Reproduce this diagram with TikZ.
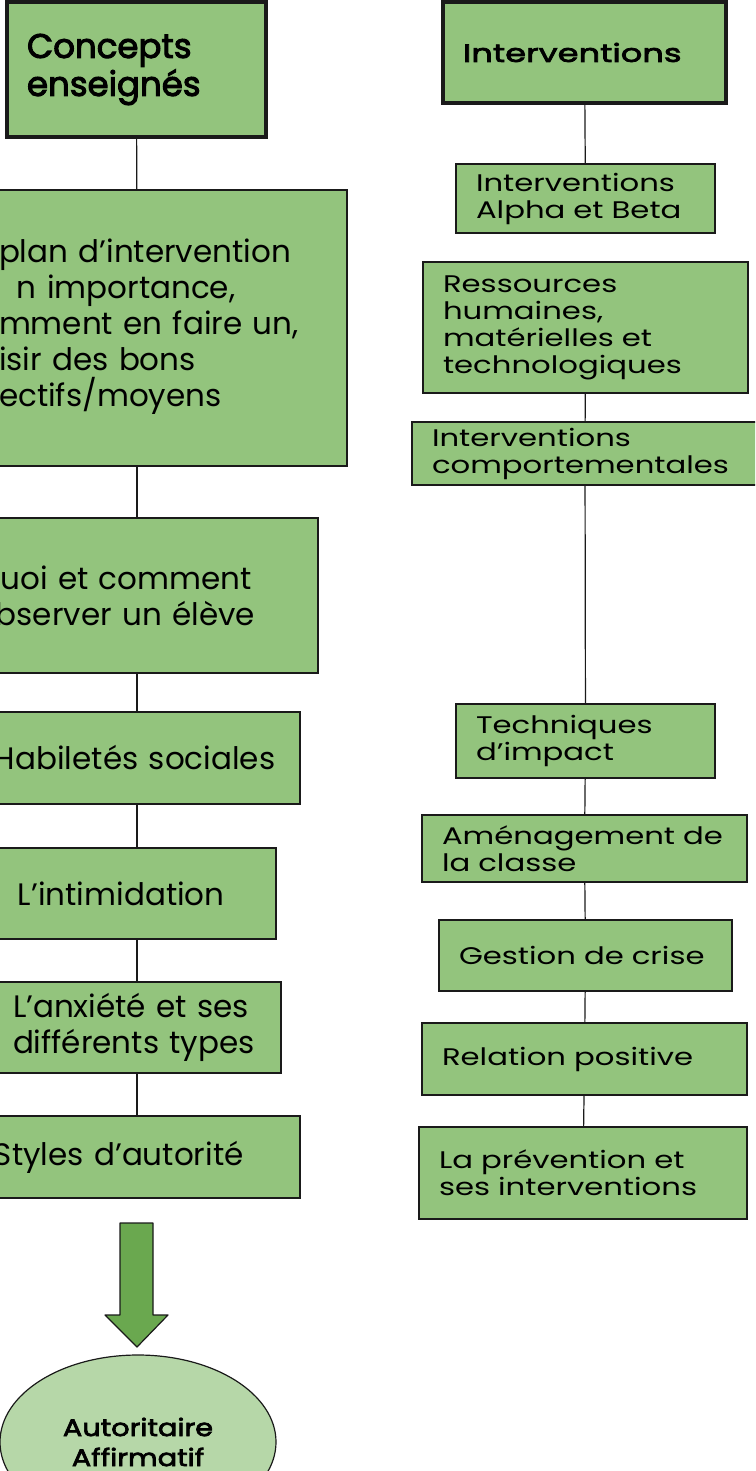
\documentclass[tikz,border=0pt]{standalone}
\usepackage{fontspec}
\setmainfont{Poppins}
\newfontfamily\WideFont[FakeStretch=1.28]{Poppins}
\newfontfamily\HeadFont[FakeBold=3]{Poppins}
\newfontfamily\HeadFontR[FakeBold=3,FakeStretch=1.35]{Poppins}
\newfontfamily\OvalFont[FakeBold=3,FakeStretch=1.2]{Poppins}
\usepackage{xcolor}
\definecolor{Col1}{RGB}{147,196,125}
\definecolor{Col2}{RGB}{106,168,79}
\definecolor{Col3}{RGB}{182,215,168}
\definecolor{Col4}{RGB}{26,26,26}
\usepackage{tikz}
\usetikzlibrary{shapes}
\tikzstyle{Box}=[rectangle,draw=Col4,fill=Col1,line width=.6pt,inner xsep=10pt,
inner ysep=0pt,align=left,font=\fontsize{15.5}{18}\selectfont]
\tikzstyle{BoxR}=[Box,font=\WideFont\fontsize{12}{13.5}\selectfont]
\tikzstyle{Head}=[Box,line width=2pt,font=\HeadFont\fontsize{17}{19}\selectfont]
\tikzstyle{HeadR}=[Head,font=\HeadFontR\fontsize{12.5}{14}\selectfont]
\tikzstyle{Oval}=[ellipse,draw=Col4,fill=Col3,line width=.6pt,inner sep=0pt,
align=center,font=\OvalFont\fontsize{12}{15}\selectfont]
\tikzstyle{Edge}=[draw=Col4,line width=.6pt]
\tikzstyle{BigArrow}=[draw=Col4,fill=Col2,line width=.6pt,line join=round]

\begin{document}
\begin{tikzpicture}[x=.5pt,y=-.5pt]
        \useasboundingbox(0,0)rectangle(755,1471);
        \clip(0,0)rectangle(755,1471);
        \node[Head,minimum width=129.5pt,minimum height=67.5pt,text width=109.5pt](C0)at(136.50,69.50){Concepts\\enseignés};
        \node[Box,minimum width=210pt,minimum height=138pt,inner xsep=36pt,text width=138pt](C1)at(137.00,328.00){plan~d’intervention\\\hspace*{9pt}n~importance,\\mment~en~faire~un,\\isir~des~bons\\ectifs/moyens\strut};
        \node[Box,minimum width=181pt,minimum height=77.5pt,text width=161pt](C2)at(137.00,595.50){Quoi et comment\\observer un élève};
        \node[Box,minimum width=163pt,minimum height=46pt,text width=143pt](C3)at(137.00,758.00){Habiletés~sociales};
        \node[Box,minimum width=139pt,minimum height=45.5pt,text width=119pt](C4)at(137.00,893.50){L’intimidation};
        \node[Box,minimum width=144pt,minimum height=45.5pt,text width=124pt](C5)at(137.00,1027.50){L’anxiété~et~ses\\différents~types};
        \node[Box,minimum width=163pt,minimum height=41pt,text width=143pt](C6)at(137.00,1157.00){Styles~d’autorité};
        \node[Oval,minimum width=138pt,minimum height=87pt](C7)at(138.00,1442.00){Autoritaire\\Affirmatif};
        \draw[Edge](C0)--(C1);
        \draw[Edge](C1)--(C2);
        \draw[Edge](C2)--(C3);
        \draw[Edge](C3)--(C4);
        \draw[Edge](C4)--(C5);
        \draw[Edge](C5)--(C6);
        \draw[BigArrow](120,1223)--(153,1223)--(153,1315)--(168,1315)--(137,1347)--(105,1315)--(120,1315)--cycle;
        \node[HeadR,minimum width=141.5pt,minimum height=50.5pt,text width=121.5pt](I0)at(584.50,52.50){Interventions};
        \node[BoxR,minimum width=129.5pt,minimum height=34.5pt,text width=109.5pt](I1)at(585.50,198.50){Interventions\\Alpha~et~Beta};
        \node[BoxR,minimum width=162.5pt,minimum height=65.5pt,text width=142.5pt](I2)at(585.50,327.50){Ressources\\humaines,\\matérielles~et\\technologiques};
        \node[BoxR,minimum width=173pt,minimum height=31.5pt,text width=153pt](I3)at(585.00,453.50){Interventions\\comportementales};
        \node[BoxR,minimum width=129.5pt,minimum height=37pt,text width=109.5pt](I4)at(585.50,741.00){Techniques\\d’impact};
        \node[BoxR,minimum width=162.5pt,minimum height=33.5pt,text width=142.5pt](I5)at(584.50,848.50){Aménagement~de\\la~classe};
        \node[BoxR,minimum width=146.5pt,minimum height=35.5pt,text width=126.5pt](I6)at(585.50,955.50){Gestion~de~crise};
        \node[BoxR,minimum width=162.5pt,minimum height=36pt,text width=142.5pt](I7)at(584.50,1059.00){Relation~positive};
        \node[BoxR,minimum width=164pt,minimum height=46pt,text width=144pt](I8)at(583.00,1173.00){La~prévention~et\\ses~interventions};
        \draw[Edge](I0)--(I1);
        \draw[Edge](I2)--(I3);
        \draw[Edge](I3)--(I4);
        \draw[Edge](I4)--(I5);
        \draw[Edge](I5)--(I6);
        \draw[Edge](I6)--(I7);
        \draw[Edge](I7)--(I8);
    \end{tikzpicture}
\end{document}
